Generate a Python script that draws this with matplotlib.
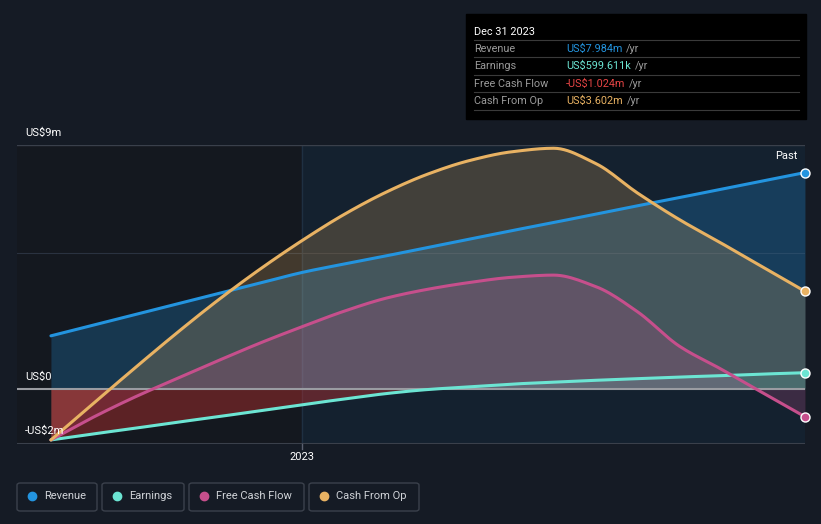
import matplotlib
matplotlib.use("Agg")
import matplotlib.pyplot as plt
import numpy as np
from matplotlib.patches import Rectangle, FancyBboxPatch
from matplotlib.lines import Line2D

plt.rcParams['font.family'] = ['Roboto', 'DejaVu Sans']

# months relative to Jan 1 2023 (Jun 30 2022 ... Dec 31 2023)
months = [-6, -5, -4, -3, -2, -1, 0, 1, 2, 3, 4, 5, 6, 7, 8, 9, 10, 11, 12]
revenue = [1.96, 2.35, 2.74, 3.13, 3.52, 3.91, 4.30, 4.61, 4.91, 5.22, 5.53, 5.84,
           6.14, 6.45, 6.76, 7.06, 7.37, 7.68, 7.984]
earnings = [-1.88, -1.66, -1.45, -1.23, -1.02, -0.80, -0.58, -0.37, -0.17, -0.02, 0.08,
            0.18, 0.25, 0.32, 0.38, 0.44, 0.49, 0.55, 0.5996]
fcf = [-1.88, -1.05, -0.30, 0.38, 1.05, 1.70, 2.30, 2.87, 3.35, 3.68, 3.93, 4.12,
       4.20, 3.78, 2.85, 1.58, 0.73, -0.15, -1.024]
cfo = [-1.88, -0.55, 0.77, 2.06, 3.29, 4.43, 5.48, 6.44, 7.26, 7.93, 8.43, 8.75,
       8.88, 8.32, 7.23, 6.25, 5.38, 4.49, 3.602]

series_names = ["Revenue", "Earnings", "Free Cash Flow", "Cash From Op"]
series_colors = ["#2394df", "#6ce5d3", "#c64f8c", "#e8b263"]
tooltip_values = ["US$7.984m", "US$599.611k", "-US$1.024m", "US$3.602m"]
tooltip_colors = ["#2394df", "#6ce5d3", "#e64545", "#e8b263"]
y_labels = ["US$9m", "US$0", "-US$2m"]
y_label_vals = [9, 0, -2]


def monotone_curve(xs, ys, n=12):
    """Render-only monotone cubic (Fritsch-Carlson) through the data points."""
    xs = np.asarray(xs, float); ys = np.asarray(ys, float)
    h = np.diff(xs); d = np.diff(ys) / h
    m = np.zeros_like(ys)
    m[0], m[-1] = d[0], d[-1]
    for i in range(1, len(ys) - 1):
        if d[i - 1] * d[i] <= 0:
            m[i] = 0.0
        else:
            w1 = 2 * h[i] + h[i - 1]; w2 = h[i] + 2 * h[i - 1]
            m[i] = (w1 + w2) / (w1 / d[i - 1] + w2 / d[i])
    X, Y = [], []
    for i in range(len(xs) - 1):
        t = np.linspace(0, 1, n, endpoint=(i == len(xs) - 2))
        h00 = 2 * t**3 - 3 * t**2 + 1; h10 = t**3 - 2 * t**2 + t
        h01 = -2 * t**3 + 3 * t**2; h11 = t**3 - t**2
        X.append(xs[i] + t * h[i])
        Y.append(h00 * ys[i] + h10 * h[i] * m[i] + h01 * ys[i + 1] + h11 * h[i] * m[i + 1])
    return np.concatenate(X), np.concatenate(Y)


W, H = 821, 524
fig = plt.figure(figsize=(W / 100, H / 100), dpi=100)
fig.patch.set_facecolor("#151b25")

def px_ax(x0, y0, x1, y1):
    return [x0 / W, 1 - y1 / H, (x1 - x0) / W, (y1 - y0) / H]

ax = fig.add_axes(px_ax(17, 145, 805, 444))
ax.set_facecolor("none")
xmin, xmax = -6.81, 12.0
ymin, ymax = -2.03, 9.0
ax.set_xlim(xmin, xmax)
ax.set_ylim(ymin, ymax)
for s in ax.spines.values():
    s.set_visible(False)
ax.set_xticks([])
ax.set_yticks([])

# backgrounds
ax.add_patch(Rectangle((xmin, ymin), 0 - xmin, ymax - ymin, color="#14181f", zorder=0))
ax.add_patch(Rectangle((0, ymin), xmax, ymax - ymin, color="#14212f", zorder=0))
ax.axvline(0, color="#1f3042", lw=1, zorder=0.5)

# gridlines
ax.axhline(9, color="#3a404b", lw=1, zorder=1)
ax.axhline(5, color="#2a3240", lw=0.8, zorder=1)
ax.axhline(ymin, color="#3a404b", lw=1.5, zorder=1)

curves = [monotone_curve(months, s) for s in (revenue, earnings, fcf, cfo)]
(xr, rv), (xe, ev), (xf, fv), (xc, cv) = curves

# fills
ax.fill_between(xr, rv, 0, color="#2394df", alpha=0.25, lw=0, zorder=2)
ax.fill_between(xc, cv, 0, color="#e8b263", alpha=0.22, lw=0, zorder=2)
ax.fill_between(xf, fv, 0, color="#c64f8c", alpha=0.22, lw=0, zorder=2)
ax.fill_between(xe, ev, 0, where=ev >= 0, interpolate=True, color="#6ce5d3", alpha=0.15, lw=0, zorder=2)
ax.fill_between(xe, ev, 0, where=ev <= 0, interpolate=True, color="#c0302f", alpha=0.42, lw=0, zorder=2)

ax.axhline(0, color="#9a9ca2", lw=1.5, zorder=3)

for (cx, cy), c in zip(curves, series_colors):
    ax.plot(cx, cy, color=c, lw=2.2, zorder=4, solid_capstyle="round", solid_joinstyle="round")
    ax.plot([cx[-1]], [cy[-1]], "o", ms=6.5, mfc=c, mec="white", mew=1.0, zorder=5, clip_on=False)

# axis labels
for lab, v in zip(y_labels, y_label_vals):
    yy = ax.transData.transform((0, v))[1]
    fig.text(25 / W, (yy + 7) / H, lab, color="white", fontsize=8, va="bottom", ha="left")

fig.text(797 / W, 1 - 156 / H, "Past", color="white", fontsize=8, ha="right", va="center")
xt = ax.transData.transform((0, 0))[0]
fig.text(xt / W, 1 - 457 / H, "2023", color="white", fontsize=8, ha="center", va="center")
fig.add_artist(Line2D([xt / W, xt / W], [1 - 444 / H, 1 - 449 / H], color="#5a6070", lw=1))

# tooltip
fig.add_artist(Rectangle((466 / W, 1 - 119 / H), 340 / W, 105 / H, transform=fig.transFigure,
                         color="#000000", zorder=10))
fig.text(474 / W, 1 - 32 / H, "Dec 31 2023", color="white", fontsize=7.8, va="center", zorder=11)
row_y = [49, 66, 84, 101]
for i, (nm, val, tc) in enumerate(zip(series_names, tooltip_values, tooltip_colors)):
    ly = row_y[i]
    fig.add_artist(Line2D([474 / W, 799 / W], [1 - (ly - 9) / H] * 2, color="#3a3a3a", lw=0.8, zorder=11))
    fig.text(474 / W, 1 - ly / H, nm, color="#9a9a9a", fontsize=7.8, va="center", zorder=11)
    t = fig.text(566 / W, 1 - ly / H, val, color=tc, fontsize=7.8, va="center", zorder=11)
    fig.canvas.draw()
    bb = t.get_window_extent()
    fig.text((bb.x1 + 4) / W, 1 - ly / H, "/yr", color="#9a9a9a", fontsize=7.8, va="center", zorder=11)
fig.add_artist(Line2D([474 / W, 799 / W], [1 - 110 / H] * 2, color="#3a3a3a", lw=0.8, zorder=11))

# legend
boxes = [(17, 97), (102, 184), (189, 304), (309, 419)]
for (bx0, bx1), nm, c in zip(boxes, series_names, series_colors):
    fig.add_artist(FancyBboxPatch((bx0 / W, 1 - 511 / H), (bx1 - bx0) / W, 28 / H,
                                  boxstyle="round,pad=0,rounding_size=0.004",
                                  transform=fig.transFigure, fc="none", ec="#3b414c", lw=1))
    fig.add_artist(Line2D([(bx0 + 15) / W], [1 - 496 / H], marker="o", ms=6, color=c, mec=c))
    fig.text((bx0 + 27) / W, 1 - 496 / H, nm, color="#d0d3d8", fontsize=8, va="center")

fig.savefig("out.png", dpi=100, facecolor=fig.get_facecolor())
